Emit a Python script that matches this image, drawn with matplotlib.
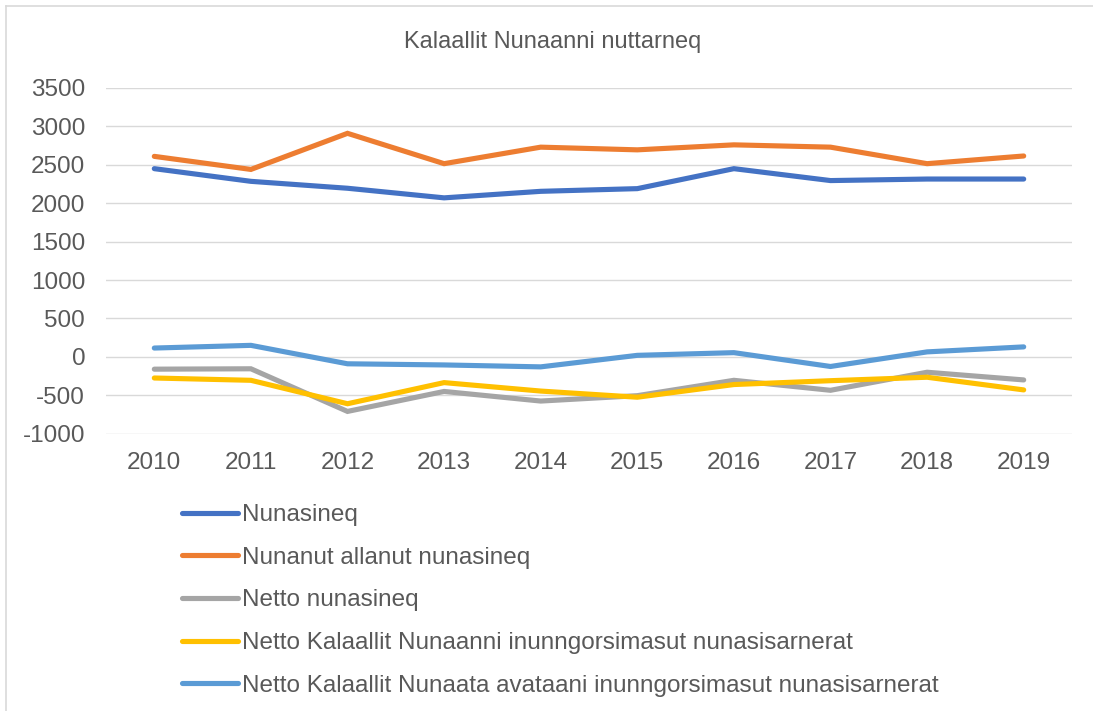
import matplotlib
matplotlib.use("Agg")
import matplotlib.pyplot as plt
from matplotlib.lines import Line2D

plt.rcParams['font.family'] = ['Liberation Sans', 'DejaVu Sans']
plt.rcParams['axes.unicode_minus'] = False

years = ["2010", "2011", "2012", "2013", "2014", "2015", "2016", "2017", "2018", "2019"]
nunasineq = [2450, 2285, 2195, 2070, 2155, 2190, 2450, 2295, 2315, 2315]
nunanut_allanut = [2610, 2440, 2910, 2515, 2730, 2695, 2760, 2730, 2515, 2615]
netto_nunasineq = [-160, -155, -710, -450, -575, -505, -305, -435, -200, -300]
netto_kn_inunngorsimasut = [-275, -305, -610, -335, -445, -525, -360, -310, -265, -430]
netto_avataani_inunngorsimasut = [115, 150, -90, -105, -130, 20, 55, -125, 65, 130]

labels = ["Nunasineq", "Nunanut allanut nunasineq", "Netto nunasineq",
          "Netto Kalaallit Nunaanni inunngorsimasut nunasisarnerat",
          "Netto Kalaallit Nunaata avataani inunngorsimasut nunasisarnerat"]
series = [nunasineq, nunanut_allanut, netto_nunasineq,
          netto_kn_inunngorsimasut, netto_avataani_inunngorsimasut]
colors = ["#4472C4", "#ED7D31", "#A5A5A5", "#FFC000", "#5B9BD5"]

W, H = 1093, 711
fig = plt.figure(figsize=(W / 100, H / 100), dpi=100)
ax = fig.add_axes([106 / W, 1 - 433.7 / H, (1072 - 106) / W, (433.7 - 88) / H])

x = list(range(len(years)))
for vals, lab, c in zip(series, labels, colors):
    ax.plot(x, vals, color=c, lw=3.7, label=lab, solid_capstyle='round',
            solid_joinstyle='miter')

ax.set_xlim(-0.5, len(years) - 0.5)
ax.set_ylim(-1000, 3500)
ax.set_yticks(range(-1000, 3501, 500))
ax.set_xticks(x)
ax.set_xticklabels(years)
ax.grid(axis='y', color='#D9D9D9', lw=1.0)
ax.set_axisbelow(True)
for s in ax.spines.values():
    s.set_visible(False)
ax.tick_params(axis='both', length=0, colors='#595959', labelsize=17.5)
ax.tick_params(axis='y', pad=15)
ax.tick_params(axis='x', pad=13)

fig.text(553 / W, 1 - 42 / H, "Kalaallit Nunaanni nuttarneq", ha='center', va='center',
         fontsize=17, color='#595959')

leg = ax.legend(loc='upper left', bbox_to_anchor=(182 / W, 1 - 504 / H),
                bbox_transform=fig.transFigure, frameon=False, fontsize=17.5,
                handlelength=2.3, handletextpad=0.17, labelspacing=0.85,
                borderpad=0, borderaxespad=0)
for t in leg.get_texts():
    t.set_color('#595959')

# chart frame border
fig.add_artist(Line2D([6 / W, 6 / W], [0, 1 - 6 / H], transform=fig.transFigure,
                      color='#D9D9D9', lw=1.2))
fig.add_artist(Line2D([6 / W, 1], [1 - 6 / H, 1 - 6 / H], transform=fig.transFigure,
                      color='#D9D9D9', lw=1.2))

fig.savefig("out.png", dpi=100)
